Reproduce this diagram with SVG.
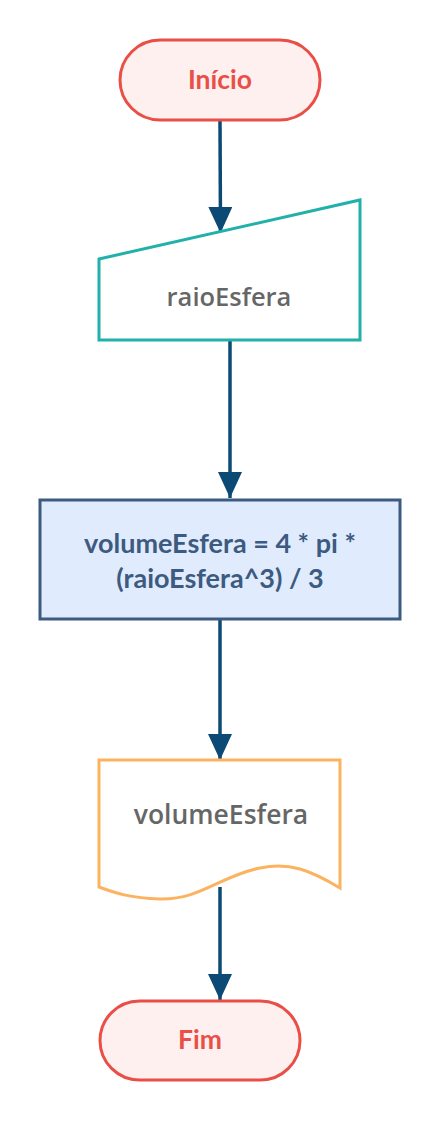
<svg xmlns="http://www.w3.org/2000/svg" width="441" height="1121" viewBox="0 0 441 1121">
<style>
.term{fill:#fef0ef;stroke:#ea4f47;stroke-width:3}
.termt{font-family:Lato,"Liberation Sans",sans-serif;font-weight:bold;font-size:26.5px;fill:#ea4f47;text-anchor:middle}
.lbl{font-family:"Open Sans","Liberation Sans",sans-serif;font-weight:600;fill:#666666;text-anchor:middle}
.proct{font-family:Lato,"Liberation Sans",sans-serif;font-weight:bold;font-size:27px;fill:#3d5a80;text-anchor:middle}
.conn{stroke:#0b4a75;stroke-width:3.5;fill:none}
</style>
<defs>
<marker id="ah" markerUnits="userSpaceOnUse" markerWidth="28" markerHeight="24" refX="26" refY="12" orient="auto">
<polygon points="0,0 26,12 0,24" fill="#0b4a75"/>
</marker>
</defs>
<g id="connectors">
<line class="conn" x1="220" y1="121" x2="220.5" y2="233" marker-end="url(#ah)"/>
<line class="conn" x1="230" y1="340" x2="230" y2="498" marker-end="url(#ah)"/>
<line class="conn" x1="220" y1="620" x2="220" y2="760" marker-end="url(#ah)"/>
<line class="conn" x1="220" y1="887" x2="220" y2="1000" marker-end="url(#ah)"/>
</g>
<g id="inicio">
<rect class="term" x="120" y="40" width="200" height="80" rx="40"/>
<text class="termt" x="220" y="89">Início</text>
</g>
<g id="entrada">
<polygon points="99,259 360,200 360,340 99,340" fill="#ffffff" stroke="#22b0aa" stroke-width="3"/>
<text class="lbl" x="229" y="306" font-size="25.5">raioEsfera</text>
</g>
<g id="processo">
<rect x="40" y="500" width="360" height="119" fill="#e0ecfd" stroke="#3d5a80" stroke-width="3"/>
<text class="proct" x="220" y="553">volumeEsfera = 4 * pi *</text>
<text class="proct" x="220" y="588">(raioEsfera^3) / 3</text>
</g>
<g id="saida">
<path d="M99,760 H340 V888 C310,870 290,862 260,868 C220,876 200,900 160,899 C130,898 115,893 99,887 Z" fill="#ffffff" stroke="#fbb360" stroke-width="3"/>
<text class="lbl" x="221" y="824" font-size="26.5">volumeEsfera</text>
</g>
<g id="fim">
<rect class="term" x="100" y="1001" width="200" height="79" rx="39.5"/>
<text class="termt" x="200" y="1049">Fim</text>
</g>
</svg>
